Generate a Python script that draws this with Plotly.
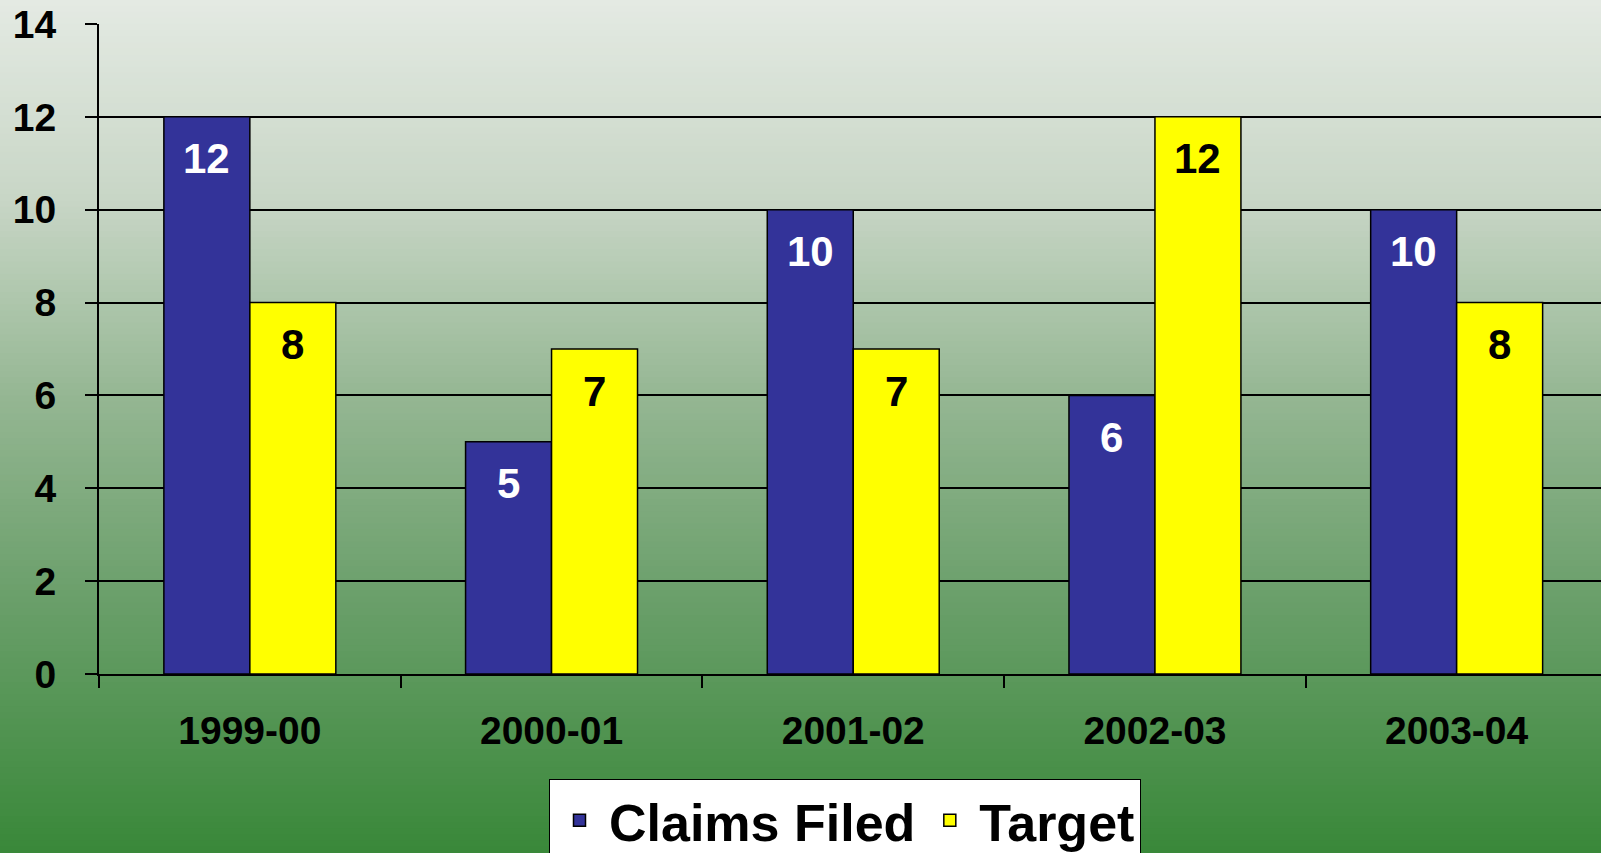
import numpy as np
import plotly.graph_objects as go

# ---- data ----
years = ["1999-00", "2000-01", "2001-02", "2002-03", "2003-04"]
claims_filed = [12, 5, 10, 6, 10]
target = [8, 7, 7, 12, 8]
series_names = ["Claims Filed", "Target"]
y_ticks = [0, 2, 4, 6, 8, 10, 12, 14]

# ---- style ----
W, H = 1601, 853
ML, MT, MR, MB = 99, 24, 0, 179
BLUE, YELLOW = "#333399", "#FFFF00"
FONT = "Arial, Liberation Sans, sans-serif"
BARGAP = 0.43
half_w = (1 - BARGAP) / 2 / 2  # half of a single bar width (category units)

fig = go.Figure()
fig.add_trace(go.Bar(name=series_names[0], x=years, y=claims_filed,
                     marker=dict(color=BLUE, line=dict(color="black", width=1.5))))
fig.add_trace(go.Bar(name=series_names[1], x=years, y=target,
                     marker=dict(color=YELLOW, line=dict(color="black", width=1.5))))

# value labels inside bar tops
annotations = []
for i, (c, t) in enumerate(zip(claims_filed, target)):
    annotations.append(dict(x=i - half_w, y=c, xref="x", yref="y", text=str(c),
                            showarrow=False, yanchor="middle", yshift=-42,
                            font=dict(family=FONT, size=42, color="white", weight="bold")))
    annotations.append(dict(x=i + half_w, y=t, xref="x", yref="y", text=str(t),
                            showarrow=False, yanchor="middle", yshift=-42,
                            font=dict(family=FONT, size=42, color="black", weight="bold")))

# vertical gradient background (page-wide)
pw = W - ML - MR
ph = H - MT - MB
stops_py = [0, 200, 400, 600, 853]
stops_rgb = np.array([[228, 234, 227], [200, 214, 198], [148, 182, 146],
                      [106, 159, 106], [57, 136, 57]], dtype=float)
shapes = []
n = 140
edges = np.linspace(0, H, n + 1)
for k in range(n):
    mid = (edges[k] + edges[k + 1]) / 2
    rgb = [int(round(np.interp(mid, stops_py, stops_rgb[:, j]))) for j in range(3)]
    y0 = (H - MB - edges[k + 1] - 0.5) / ph
    y1 = (H - MB - edges[k] + 0.5) / ph
    shapes.append(dict(type="rect", xref="paper", yref="paper",
                       x0=-ML / pw - 0.01, x1=1.01, y0=y0, y1=y1,
                       fillcolor="rgb(%d,%d,%d)" % tuple(rgb),
                       line=dict(width=0), layer="below"))

cat_px = 301.7
fig.update_layout(
    width=W, height=H,
    margin=dict(l=ML, r=MR, t=MT, b=MB, autoexpand=False),
    paper_bgcolor="rgba(0,0,0,0)", plot_bgcolor="rgba(0,0,0,0)",
    barmode="group", bargap=BARGAP, bargroupgap=0,
    shapes=shapes, annotations=annotations,
    font=dict(family=FONT, color="black"),
    showlegend=True,
    legend=dict(orientation="h", x=(549 - ML) / pw, xanchor="left",
                y=(H - MB - 779) / ph, yanchor="top",
                bgcolor="white", bordercolor="black", borderwidth=1,
                itemwidth=49,
                font=dict(family=FONT, size=52, color="black", weight="bold"),
                traceorder="normal"),
    xaxis=dict(type="category", range=[-0.5, -0.5 + pw / cat_px],
               showline=True, linecolor="black", linewidth=2,
               ticks="outside", tickson="boundaries", ticklen=12, tickwidth=2,
               tickcolor="black", showgrid=False, zeroline=False,
               ticklabelstandoff=21,
               tickfont=dict(family=FONT, size=39, color="black", weight="bold")),
    yaxis=dict(range=[0, 14], tickvals=y_ticks, showline=True, linecolor="black",
               linewidth=2, ticks="outside", ticklen=12, tickwidth=2, tickcolor="black",
               showgrid=True, gridcolor="black", gridwidth=2, zeroline=False,
               ticklabelstandoff=21,
               tickfont=dict(family=FONT, size=39, color="black", weight="bold")),
)

fig.write_html("out.html",
               config={"displayModeBar": False},
               post_script="document.body.style.margin='0px';"
                           "document.body.style.overflow='hidden';")
